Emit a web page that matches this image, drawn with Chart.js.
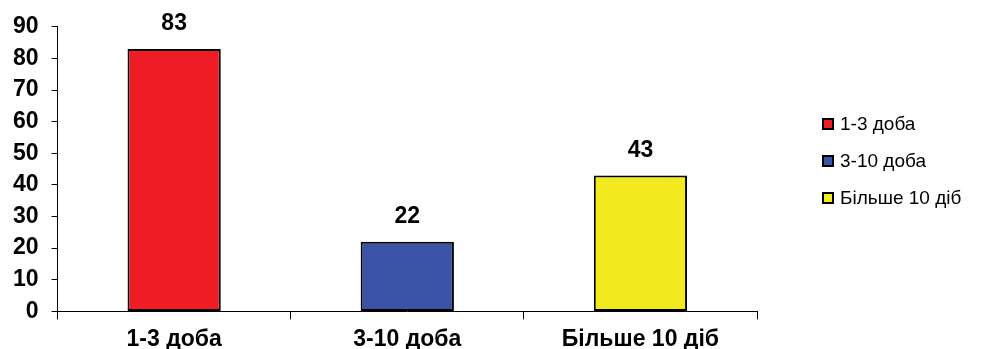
<!DOCTYPE html>
<html lang="uk">

<head>
    <meta charset="UTF-8">
    <title>Тривалість</title>
    <script src="https://cdn.jsdelivr.net/npm/chart.js"></script>
    <style>
        body {
            margin: 0;
            background: #fff;
        }
    </style>
</head>

<body>
    <canvas id="myChart" width="990" height="349"></canvas>

    <script>
        const categories = ['1-3 доба', '3-10 доба', 'Більше 10 діб'];
        const values = [83, 22, 43];
        const barColors = ['#ee1c25', '#3a53a4', '#f2ea1f'];
        const yTicks = [0, 10, 20, 30, 40, 50, 60, 70, 80, 90];

        const fontFamily = '"Liberation Sans", Arial, sans-serif';

        // підписи значень над стовпчиками
        const valueLabels = {
            id: 'valueLabels',
            afterDatasetsDraw(chart) {
                const ctx = chart.ctx;
                const meta = chart.getDatasetMeta(0);
                ctx.save();
                ctx.font = 'bold 23px ' + fontFamily;
                ctx.fillStyle = '#000';
                ctx.textAlign = 'center';
                ctx.textBaseline = 'middle';
                meta.data.forEach((bar, i) => {
                    ctx.fillText(values[i], bar.x, bar.y - 25);
                });
                ctx.restore();
            }
        };

        // легенда праворуч
        const sideLegend = {
            id: 'sideLegend',
            afterDraw(chart) {
                const ctx = chart.ctx;
                ctx.save();
                ctx.font = '19px ' + fontFamily;
                ctx.textBaseline = 'middle';
                categories.forEach((name, i) => {
                    const y = 124 + i * 37;
                    ctx.fillStyle = barColors[i];
                    ctx.fillRect(823, y - 5, 10, 10);
                    ctx.strokeStyle = '#000';
                    ctx.lineWidth = 2;
                    ctx.strokeRect(823, y - 5, 10, 10);
                    ctx.fillStyle = '#000';
                    ctx.fillText(name, 840, y + 1);
                });
                ctx.restore();
            }
        };

        const canvas = document.getElementById('myChart');
        const ctx = canvas.getContext('2d');

        const chart = new Chart(ctx, {
            type: 'bar',
            data: {
                labels: categories,
                datasets: [{
                    data: values,
                    backgroundColor: barColors,
                    borderColor: '#000',
                    borderWidth: 2,
                    borderSkipped: false,
                    categoryPercentage: 1,
                    barPercentage: 0.4
                }]
            },
            options: {
                responsive: false,
                animation: false,
                layout: {
                    padding: { left: 0, top: 23, right: 233, bottom: -10 }
                },
                plugins: {
                    legend: { display: false },
                    tooltip: { enabled: false }
                },
                scales: {
                    x: {
                        offset: true,
                        grid: {
                            offset: true,
                            drawOnChartArea: false,
                            color: '#000',
                            tickLength: 8
                        },
                        border: { color: '#000', width: 1 },
                        ticks: {
                            color: '#000',
                            padding: 6,
                            maxRotation: 0,
                            font: { family: fontFamily, size: 23, weight: 'bold' }
                        }
                    },
                    y: {
                        min: 0,
                        max: 90,
                        afterBuildTicks(axis) {
                            axis.ticks = yTicks.map(v => ({ value: v }));
                        },
                        grid: {
                            drawOnChartArea: false,
                            color: '#000',
                            tickLength: 6
                        },
                        border: { color: '#000', width: 1 },
                        ticks: {
                            color: '#000',
                            padding: 13,
                            font: { family: fontFamily, size: 23, weight: 'bold' }
                        }
                    }
                }
            },
            plugins: [valueLabels, sideLegend]
        });
    </script>

</body>

</html>
